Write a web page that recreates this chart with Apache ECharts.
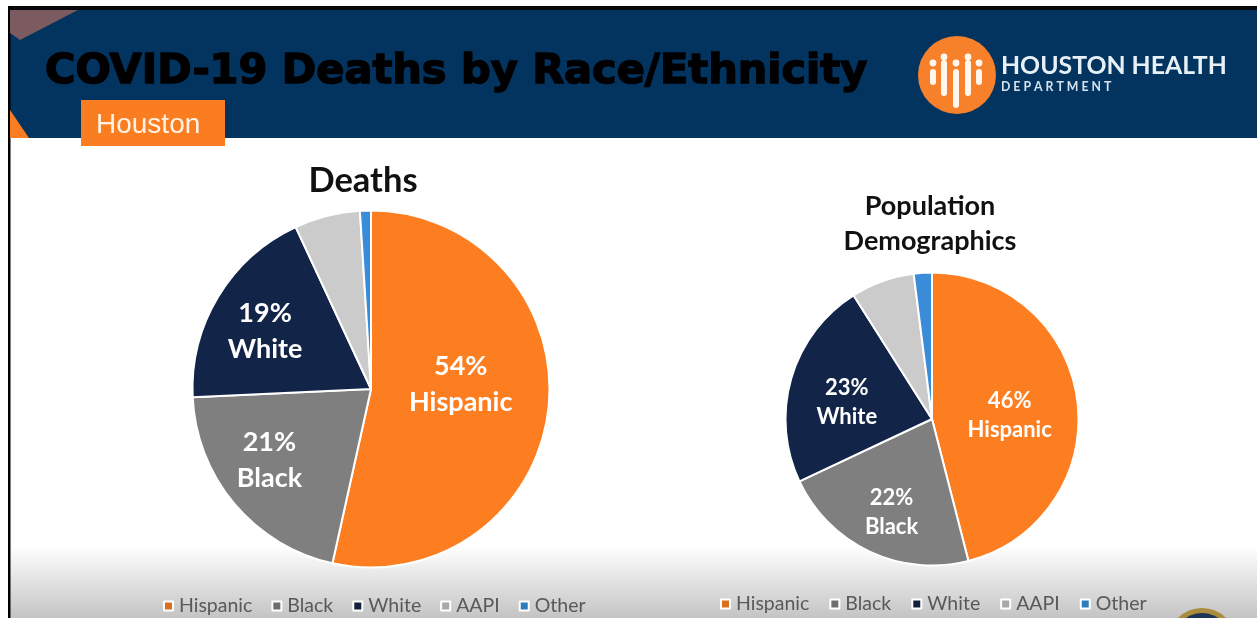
<!DOCTYPE html>
<html><head><meta charset="utf-8">
<style>html,body{margin:0;padding:0;background:#fff}#c{width:1257px;height:618px}</style>
<script src="https://cdn.jsdelivr.net/npm/echarts@6/dist/echarts.min.js"></script>
</head><body><div id="c"></div>
<script>
const categories = ['Hispanic','Black','White','AAPI','Other'];
const deathsValues = [54,21,19,6,1];
const populationValues = [46,22,23,7,2];
const sliceColors = ['#fd7e20','#7f7f7f','#122548','#cbcbcb','#3a8cd8'];
const legendColors = ['#d8701f','#6e6e6e','#13203c','#a8a8a8','#2f7cbd'];
const labelled = [true,true,true,false,false];
const deathsOffsets = [[-2,-15],[-31,12],[-27,-10],[0,0],[0,0]];
const populationOffsets = [[2,6],[-8,24],[-12,5],[0,0],[0,0]];

const chart = echarts.init(document.getElementById('c'), null, {renderer:'canvas'});
const font = 'Lato';
const navy = '#03335f', orange = '#fb7d21';

function pie(name, values, offsets, center, radius, size, lh){
  return {
    type:'pie', name, center, radius, startAngle:90, clockwise:true,
    avoidLabelOverlap:false, silent:true, animation:false,
    itemStyle:{borderColor:'#fff', borderWidth:2},
    labelLine:{show:false},
    data:categories.map((c,i)=>({
      name:c, value:values[i],
      itemStyle:{color:sliceColors[i]},
      label:{show:labelled[i], position:'inside', offset:offsets[i],
        formatter:p=>p.value+'%\n'+p.name,
        color:'#fff', fontFamily:font, fontWeight:'bold', fontSize:size, lineHeight:lh, align:'center'}
    }))
  };
}
function legend(left, top, gap){
  return {
    left, top, orient:'horizontal', itemWidth:9, itemHeight:9, itemGap:gap,
    icon:'rect', selectedMode:false,
    textStyle:{color:'#595959', fontFamily:font, fontSize:19.5, padding:[0,0,0,1]},
    data:categories.map((c,i)=>({name:c, itemStyle:{color:legendColors[i]}}))
  };
}
const bars = [[933,72,82],[944,63,93],[956,72,105],[968,63,93],[979,72,82]];
const dots = [[933,63],[944,57],[956,63],[968,57],[979,63]];

chart.setOption({
  animation:false,
  backgroundColor:'#fff',
  title:[
    {text:'Deaths', left:358, top:176, textAlign:'center', textVerticalAlign:'middle',
     textStyle:{fontFamily:font, fontWeight:'bold', fontSize:34.5, color:'#111'}},
    {text:'Population\nDemographics', left:925, top:219, textAlign:'center', textVerticalAlign:'middle',
     textStyle:{fontFamily:font, fontWeight:'bold', fontSize:27, lineHeight:35, color:'#111'}}
  ],
  legend:[legend(158,591,19), legend(715,589,20)],
  series:[
    pie('Deaths', deathsValues, deathsOffsets, [371,389], 178.5, 27, 36),
    pie('Population Demographics', populationValues, populationOffsets, [932,419], 146.5, 22, 29)
  ],
  graphic:{elements:[
    {type:'rect', z:-10, shape:{x:10,y:138,width:1247,height:480},
     style:{fill:new echarts.graphic.LinearGradient(0,0,0,1,[
       {offset:0,color:'#fff'},{offset:0.85,color:'#fff'},{offset:1,color:'#c4c4c4'}])}},
    {type:'rect', z:-9, shape:{x:8,y:6,width:1249,height:132}, style:{fill:navy}},
    {type:'rect', z:-8, shape:{x:8,y:6,width:1249,height:4}, style:{fill:'#06080c'}},
    {type:'rect', z:-8, shape:{x:8,y:6,width:2.5,height:612}, style:{fill:'#000'}},
    {type:'polygon', z:-7, shape:{points:[[10,10],[78,10],[20,40],[10,33]]}, style:{fill:'#7b5a60'}},
    {type:'polygon', z:-7, shape:{points:[[10,110],[29,138],[10,138]]}, style:{fill:orange}},
    {type:'rect', z:-6, shape:{x:81,y:100,width:144,height:46}, style:{fill:orange}},
    {type:'text', z:-5, style:{x:96,y:125,text:'Houston',fill:'#fff3e6',
      font:'28px "Liberation Sans"',textVerticalAlign:'middle'}},
    {type:'text', z:-5, style:{x:45,y:72,text:'COVID-19 Deaths by Race/Ethnicity',fill:'#000',
      stroke:'#000',lineWidth:1.5,font:'bold 41.5px "DejaVu Sans"',textVerticalAlign:'middle'}},
    {type:'circle', z:-5, shape:{cx:957,cy:75,r:39}, style:{fill:'#f7802a'}},
    ...bars.map(b=>({type:'line', z:-4, shape:{x1:b[0],y1:b[1],x2:b[0],y2:b[2]},
      style:{stroke:'#fff7ee',lineWidth:6,lineCap:'round'}})),
    ...dots.map(d=>({type:'circle', z:-4, shape:{cx:d[0],cy:d[1],r:3.4}, style:{fill:'#fff7ee'}})),
    {type:'text', z:-5, style:{x:1001,y:66,text:'HOUSTON HEALTH',fill:'#e6f0f6',
      font:'bold 24.8px Lato',textVerticalAlign:'middle'}},
    {type:'text', z:-5, style:{x:1001,y:87,text:'D E P A R T M E N T',fill:'#d5e2ec',
      font:'bold 12.3px Lato',textVerticalAlign:'middle'}},
    {type:'circle', z:-5, shape:{cx:1202,cy:642,r:34}, style:{fill:'#a98c3c'}},
    {type:'circle', z:-5, shape:{cx:1202,cy:642,r:29}, style:{fill:'#1f3558'}}
  ]}
});
</script></body></html>
